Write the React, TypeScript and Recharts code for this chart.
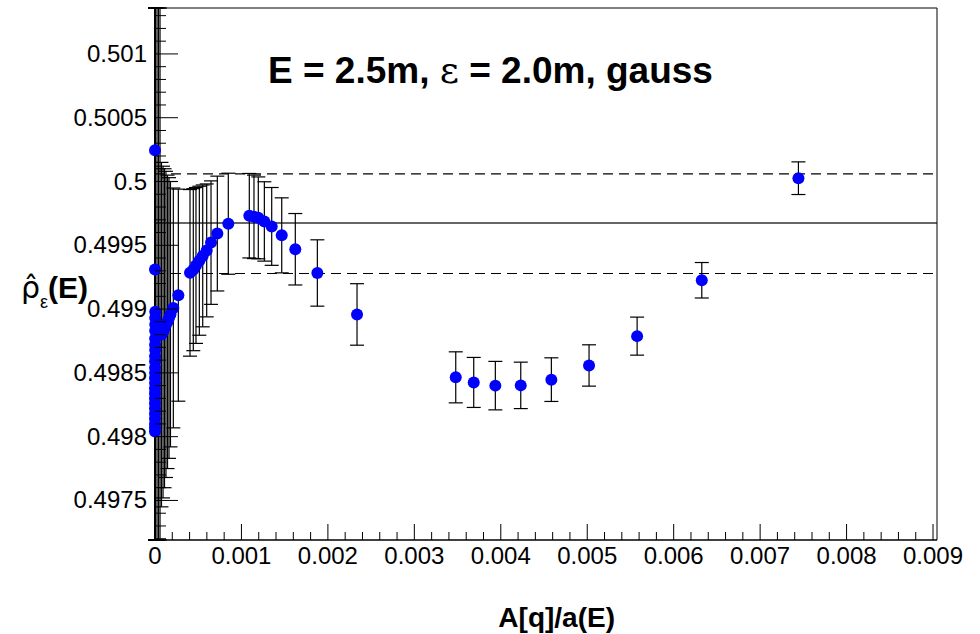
import React from "react";
import { ScatterChart, Scatter, XAxis, YAxis, ErrorBar, ReferenceLine } from "recharts";

// measured points: x = A[q]/a(E), y = rho_eps(E), err = symmetric y error
const X_VALUES = [
  0, 0, 0.000003, 0.000003, 0.000002, 0.000002, 0.000001, 0.000001, 0.000001, 0, 0, 0, 0, 0,
  0.000002, 0.000002, 0.000001, 0.000001, 0.000001, 0, 0, 0, 0, 0, 0,
  0.000023, 0.00004, 0.000058, 0.000075, 0.000093, 0.00011, 0.000127, 0.000145, 0.000162, 0.000179,
  0.000212, 0.00027,
  0.000405, 0.000443, 0.000474, 0.000513, 0.000552, 0.000598, 0.000648, 0.000721, 0.000848,
  0.001091, 0.001145, 0.001195, 0.001265, 0.00135, 0.001466, 0.001623, 0.001878, 0.002337,
  0.003479, 0.003687, 0.003937, 0.004231, 0.004585, 0.005021, 0.005577, 0.006325, 0.007443,
];
const Y_VALUES = [
  0.500245, 0.49931, 0.49898, 0.49888, 0.49877, 0.49868, 0.49859, 0.4985, 0.49842, 0.49834, 0.49826, 0.49818, 0.4981, 0.49804,
  0.49893, 0.49883, 0.49872, 0.49863, 0.49854, 0.49846, 0.49838, 0.4983, 0.49822, 0.49814, 0.49807,
  0.4988, 0.49884, 0.49887, 0.4988, 0.49882, 0.49885, 0.49888, 0.4989, 0.49893, 0.49896,
  0.499009, 0.499109,
  0.499284, 0.499309, 0.499342, 0.499379, 0.499417, 0.49946, 0.499521, 0.499592, 0.499669,
  0.499732, 0.499723, 0.499715, 0.499687, 0.499648, 0.499578, 0.499469, 0.499283, 0.498958,
  0.498465, 0.498425, 0.4984, 0.498402, 0.498447, 0.498558, 0.498788, 0.499226, 0.500026,
];
const Y_ERRORS = [
  0.004, 0.004, 0.004, 0.004, 0.004, 0.004, 0.004, 0.004, 0.004, 0.004, 0.004, 0.004, 0.004, 0.004,
  0.004, 0.004, 0.004, 0.004, 0.004, 0.004, 0.004, 0.004, 0.004, 0.004, 0.004,
  0.004, 0.003, 0.0025, 0.00135, 0.0013, 0.00125, 0.0012, 0.00115, 0.0011, 0.00104,
  0.00094, 0.000831,
  0.000653, 0.000635, 0.000611, 0.000584, 0.000556, 0.000521, 0.000484, 0.00045, 0.000396,
  0.000331, 0.000327, 0.000321, 0.000311, 0.000305, 0.000294, 0.00028, 0.00026, 0.000241,
  0.0002, 0.000196, 0.00019, 0.000182, 0.000171, 0.000162, 0.000149, 0.000139, 0.000128,
];

const MEAN = 0.499675;
const BAND_HI = 0.50006;
const BAND_LO = 0.499279;

const X_MAX = 0.009046;
const Y_MIN = 0.49719;
const Y_MAX = 0.50136;

const X_LABELS = ["0", "0.001", "0.002", "0.003", "0.004", "0.005", "0.006", "0.007", "0.008", "0.009"];
const Y_LABELS = ["0.4975", "0.498", "0.4985", "0.499", "0.4995", "0.5", "0.5005", "0.501"];

// error bars that run off the frame are cut at the frame, like the original
const rows = X_VALUES.map((x, i) => {
  const y = Y_VALUES[i];
  const e = Y_ERRORS[i];
  return { x, y, err: [Math.max(0, Math.min(e, y - Y_MIN - 1e-9)), Math.max(0, Math.min(e, Y_MAX - y - 1e-9))] };
});

// major + minor tick positions (5 subdivisions)
const xTicks: number[] = [];
for (let i = 0; i <= 45; i++) xTicks.push(+(i * 0.0002).toFixed(5));
const yTicks: number[] = [];
for (let i = 0; i <= 41; i++) {
  const v = +(0.4972 + i * 0.0001).toFixed(5);
  if (v >= Y_MIN && v <= Y_MAX) yTicks.push(v);
}
const xLabelFor = (v: number) => X_LABELS.find(l => Math.abs(parseFloat(l) - v) < 1e-7);
const yLabelFor = (v: number) => Y_LABELS.find(l => Math.abs(parseFloat(l) - v) < 1e-7);

const FONT = "'Liberation Sans', Arial, Helvetica, sans-serif";

function XTick(props: any) {
  const { x, y, payload } = props;
  const label = xLabelFor(payload.value);
  return (
    <g>
      <line x1={x} y1={y} x2={x} y2={y - (label ? 16 : 8)} stroke="#000" strokeWidth={1} />
      {label && (
        <text x={x} y={y + 24} textAnchor="middle" fontSize={24} fontFamily={FONT} fill="#000">{label}</text>
      )}
    </g>
  );
}

function YTick(props: any) {
  const { x, y, payload } = props;
  const label = yLabelFor(payload.value);
  return (
    <g>
      <line x1={x} y1={y} x2={x + (label ? 23 : 11)} y2={y} stroke="#000" strokeWidth={1} />
      {label && (
        <text x={x - 8} y={y + 8} textAnchor="end" fontSize={24} fontFamily={FONT} fill="#000">{label}</text>
      )}
    </g>
  );
}

const Dot = (p: any) => <circle cx={p.cx} cy={p.cy} r={6} fill="#0000ff" />;

export default function App() {
  return (
    <div style={{ position: "absolute", left: 0, top: 0, width: 980, height: 634, background: "#fff" }}>
      <ScatterChart width={980} height={634} margin={{ top: 8, right: 43, bottom: 0, left: 0 }}>
        <XAxis
          type="number" dataKey="x" domain={[0, X_MAX]} ticks={xTicks} interval={0}
          tick={<XTick />} tickLine={false} tickSize={0} tickMargin={0} height={94}
          axisLine={{ stroke: "#000", strokeWidth: 1.5 }}
        />
        <YAxis
          type="number" dataKey="y" domain={[Y_MIN, Y_MAX]} ticks={yTicks} interval={0}
          tick={<YTick />} tickLine={false} tickSize={0} tickMargin={0} width={155}
          axisLine={{ stroke: "#000", strokeWidth: 2 }}
        />
        <ReferenceLine y={MEAN} stroke="#333" strokeWidth={1.5} />
        <ReferenceLine y={BAND_HI} stroke="#000" strokeWidth={1.2} strokeDasharray="10 6" />
        <ReferenceLine y={BAND_LO} stroke="#000" strokeWidth={1.2} strokeDasharray="10 6" />
        <ReferenceLine y={Y_MAX} stroke="#000" strokeWidth={1} />
        <ReferenceLine x={X_MAX} stroke="#000" strokeWidth={1} />
        <Scatter data={rows} shape={Dot} isAnimationActive={false}>
          <ErrorBar dataKey="err" direction="y" width={7} stroke="#000" strokeWidth={1.2} isAnimationActive={false} />
        </Scatter>
      </ScatterChart>
      <svg width={980} height={634} style={{ position: "absolute", left: 0, top: 0, pointerEvents: "none" }}>
        <text x={268} y={83} fontSize={37} fontWeight="bold" fontFamily={FONT} fill="#000">
          E = 2.5m, <tspan fontWeight="normal" fontFamily="'DejaVu Serif', serif">ε</tspan> = 2.0m, gauss
        </text>
        <text x={21} y={298} fontFamily={FONT} fill="#000">
          <tspan fontSize={30} fontFamily="'DejaVu Sans', sans-serif">ρ̂</tspan>
          <tspan fontSize={18} dy={10}>ε</tspan>
          <tspan fontSize={30} dy={-10} fontWeight="bold">(E)</tspan>
        </text>
        <text x={615} y={627} textAnchor="end" fontSize={28} fontWeight="bold" fontFamily={FONT} fill="#000">A[q]/a(E)</text>
      </svg>
    </div>
  );
}
